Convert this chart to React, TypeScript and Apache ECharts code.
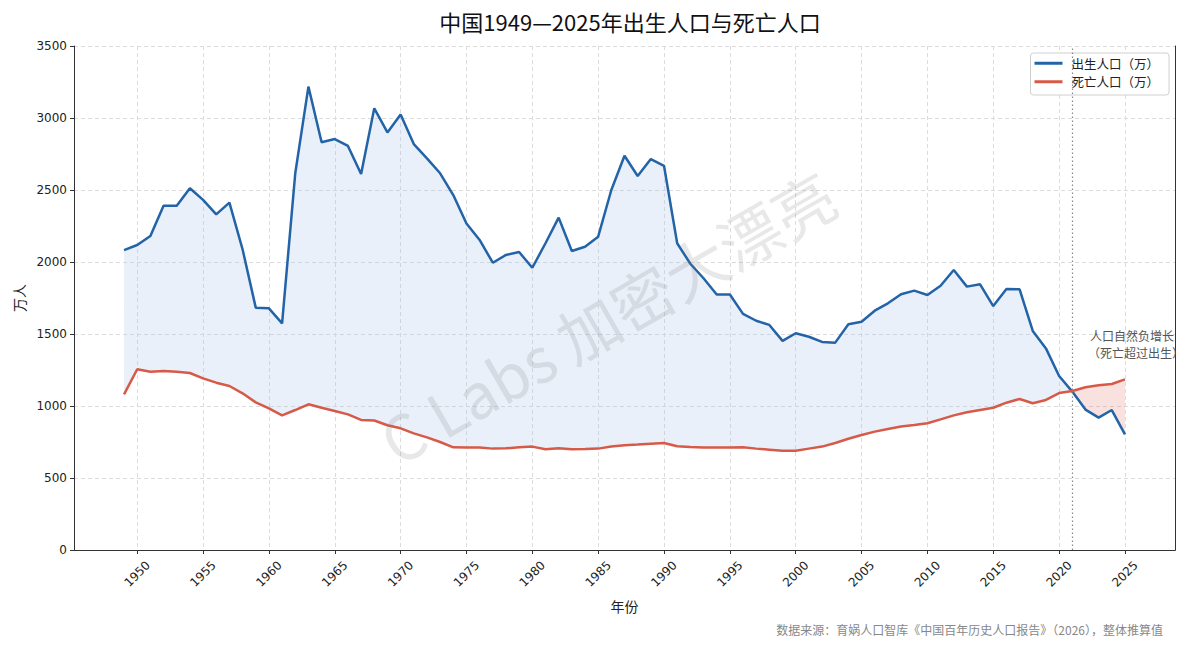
import React, { useEffect, useRef } from "react";
import * as echarts from "echarts";

const years: number[] = Array.from({ length: 77 }, (_, i) => 1949 + i);

const births: number[] = [
  2083, 2118, 2181, 2391, 2390, 2512, 2431, 2331, 2412, 2088,
  1683, 1678, 1574, 2616, 3218, 2831, 2854, 2806, 2611, 3067,
  2900, 3025, 2819, 2720, 2616, 2465, 2268, 2153, 1995, 2049,
  2069, 1960, 2130, 2308, 2076, 2106, 2176, 2500, 2738, 2597,
  2715, 2668, 2130, 1988, 1887, 1774, 1774, 1640, 1592, 1563,
  1452, 1505, 1481, 1445, 1440, 1568, 1585, 1662, 1713, 1776,
  1801, 1771, 1835, 1944, 1829, 1845, 1694, 1812, 1810, 1521,
  1400, 1208, 1100, 975, 919, 972, 803,
];

const deaths: number[] = [
  1081, 1255, 1238, 1243, 1238, 1229, 1192, 1162, 1139, 1088,
  1025, 984, 935, 972, 1012, 988, 965, 942, 903, 899,
  866, 845, 810, 782, 750, 713, 711, 711, 704, 706,
  713, 718, 699, 706, 699, 701, 704, 718, 727, 732,
  738, 743, 720, 715, 711, 711, 711, 713, 704, 697,
  690, 690, 704, 718, 743, 773, 799, 822, 840, 857,
  868, 880, 907, 935, 956, 972, 988, 1023, 1049, 1019,
  1042, 1090, 1104, 1130, 1144, 1153, 1185,
];

const xTicks: number[] = [1950, 1955, 1960, 1965, 1970, 1975, 1980, 1985, 1990, 1995, 2000, 2005, 2010, 2015, 2020, 2025];
const markYear = 2021;

const titleText = "中国1949—2025年出生人口与死亡人口";
const birthName = "出生人口（万）";
const deathName = "死亡人口（万）";
const noteLines: string[] = ["人口自然负增长", "（死亡超过出生）"];
const sourceText = "数据来源：育娲人口智库《中国百年历史人口报告》（2026），整体推算值";
const watermarkText = "C Labs 加密大漂亮";

const BLUE = "#2364a8";
const RED = "#d65a47";
const FONT = "'DejaVu Sans', 'Noto Sans CJK SC', sans-serif";
const CJK = "'Noto Sans CJK SC', 'DejaVu Sans', sans-serif";

// index of the first year in which deaths exceed births
const crossIdx = births.findIndex((b, i) => b < deaths[i]);

function regionPolygon(api: any, region: number): number[][] {
  const k = crossIdx;
  const i0 = k - 1;
  const g0 = births[i0] - deaths[i0];
  const g1 = births[k] - deaths[k];
  const t = g0 / (g0 - g1);
  const cross = [years[i0] + t * (years[k] - years[i0]), births[i0] + t * (births[k] - births[i0])];
  const pts: number[][] = [];
  if (region === 0) {
    for (let i = 0; i <= i0; i++) pts.push(api.coord([years[i], births[i]]));
    pts.push(api.coord(cross));
    for (let i = i0; i >= 0; i--) pts.push(api.coord([years[i], deaths[i]]));
  } else {
    pts.push(api.coord(cross));
    for (let i = k; i < years.length; i++) pts.push(api.coord([years[i], deaths[i]]));
    for (let i = years.length - 1; i >= k; i--) pts.push(api.coord([years[i], births[i]]));
  }
  return pts;
}

export default function App() {
  const ref = useRef<HTMLDivElement>(null);
  useEffect(() => {
    if (!ref.current) return;
    const chart = echarts.init(ref.current, null, { renderer: "svg" });
    const fills = ["rgba(178, 201, 232, 0.27)", "rgba(214, 90, 71, 0.18)"];
    chart.setOption({
      animation: false,
      backgroundColor: "#ffffff",
      title: {
        text: titleText,
        left: 625,
        top: 5,
        textAlign: "center",
        textStyle: { fontFamily: CJK, fontSize: 22, fontWeight: "normal", color: "#111" },
      },
      grid: {
        left: 74,
        right: 25,
        top: 46,
        bottom: 98,
        show: false,
      },
      legend: {
        data: [birthName, deathName],
        right: 31,
        top: 53,
        orient: "vertical",
        icon: "rect",
        itemWidth: 28,
        itemHeight: 3,
        itemGap: 6,
        padding: [4, 10, 7, 4],
        backgroundColor: "#fff",
        borderColor: "#d0d0d0",
        borderWidth: 1,
        borderRadius: 3,
        textStyle: { fontFamily: CJK, fontSize: 12.5, color: "#222", padding: [0, 0, 0, 4] },
      },
      xAxis: [
        {
          type: "value",
          min: 1945.2,
          max: 2028.8,
          name: "年份",
          nameLocation: "middle",
          nameGap: 49,
          nameTextStyle: { fontFamily: CJK, fontSize: 14, color: "#222" },
          axisLine: { show: true, lineStyle: { color: "#333", width: 1 } },
          axisTick: { show: true, length: 4, customValues: xTicks, lineStyle: { color: "#333" } },
          axisLabel: {
            customValues: xTicks,
            rotate: 45,
            align: "center",
            verticalAlign: "middle",
            margin: 24,
            fontFamily: FONT,
            fontSize: 12,
            color: "#222",
            formatter: (v: number) => String(v),
          },
          splitLine: { show: true, lineStyle: { color: "#dcdcdc", type: [4, 3], width: 1 } },
        },
        {
          type: "value",
          position: "top",
          min: 1945.2,
          max: 2028.8,
          axisLine: { show: true, lineStyle: { color: "#333", width: 1 } },
          axisTick: { show: false },
          axisLabel: { show: false },
          splitLine: { show: false },
        },
      ],
      yAxis: [
        {
          type: "value",
          min: 0,
          max: 3500,
          interval: 500,
          name: "万人",
          nameLocation: "middle",
          nameGap: 47,
          nameRotate: 90,
          nameTextStyle: { fontFamily: CJK, fontSize: 14, color: "#222" },
          axisLine: { show: true, lineStyle: { color: "#333", width: 1 } },
          axisTick: { show: true, length: 4, lineStyle: { color: "#333" } },
          axisLabel: { fontFamily: FONT, fontSize: 12, color: "#222", margin: 7, formatter: (v: number) => String(v) },
          splitLine: { show: true, lineStyle: { color: "#dcdcdc", type: [4, 3], width: 1 } },
        },
        {
          type: "value",
          position: "right",
          min: 0,
          max: 3500,
          interval: 500,
          axisLine: { show: true, lineStyle: { color: "#333", width: 1 } },
          axisTick: { show: false },
          axisLabel: { show: false },
          splitLine: { show: false },
        },
      ],
      series: [
        {
          type: "custom",
          name: "fill",
          xAxisIndex: 0,
          yAxisIndex: 0,
          silent: true,
          clip: true,
          z: 1,
          data: [0, 1],
          renderItem: (params: any, api: any) => ({
            type: "polygon",
            shape: { points: regionPolygon(api, params.dataIndex) },
            style: { fill: fills[params.dataIndex], stroke: "none" },
          }),
        },
        {
          type: "line",
          name: birthName,
          data: years.map((y, i) => [y, births[i]]),
          symbol: "none",
          lineStyle: { color: BLUE, width: 2.5 },
          itemStyle: { color: BLUE },
          z: 3,
          markLine: {
            silent: true,
            symbol: "none",
            label: { show: false },
            lineStyle: { color: "#8a8a8a", type: [1.5, 2.5], width: 1.2 },
            data: [{ xAxis: markYear }],
          },
        },
        {
          type: "line",
          name: deathName,
          data: years.map((y, i) => [y, deaths[i]]),
          symbol: "none",
          lineStyle: { color: RED, width: 2.5 },
          itemStyle: { color: RED },
          z: 3,
        },
      ],
      graphic: [
        {
          type: "text",
          x: 607,
          y: 316,
          rotation: (30 * Math.PI) / 180,
          z: 10,
          silent: true,
          style: {
            text: watermarkText,
            fontFamily: CJK,
            fontSize: 62,
            fill: "rgba(120, 120, 120, 0.17)",
            textAlign: "center",
            textVerticalAlign: "middle",
          },
        },
        {
          type: "text",
          x: 1132,
          y: 335,
          z: 10,
          style: {
            text: noteLines[0],
            fontFamily: CJK,
            fontSize: 12,
            fill: "#555",
            textAlign: "center",
            textVerticalAlign: "middle",
          },
        },
        {
          type: "text",
          x: 1136,
          y: 352,
          z: 10,
          style: {
            text: noteLines[1],
            fontFamily: CJK,
            fontSize: 12,
            fill: "#555",
            textAlign: "center",
            textVerticalAlign: "middle",
          },
        },
        {
          type: "text",
          right: 37,
          top: 623,
          style: {
            text: sourceText,
            fontFamily: CJK,
            fontSize: 12,
            fill: "#888",
          },
        },
      ],
    });
    return () => chart.dispose();
  }, []);
  return <div ref={ref} style={{ position: "fixed", left: 0, top: 0, width: 1200, height: 648 }} />;
}
